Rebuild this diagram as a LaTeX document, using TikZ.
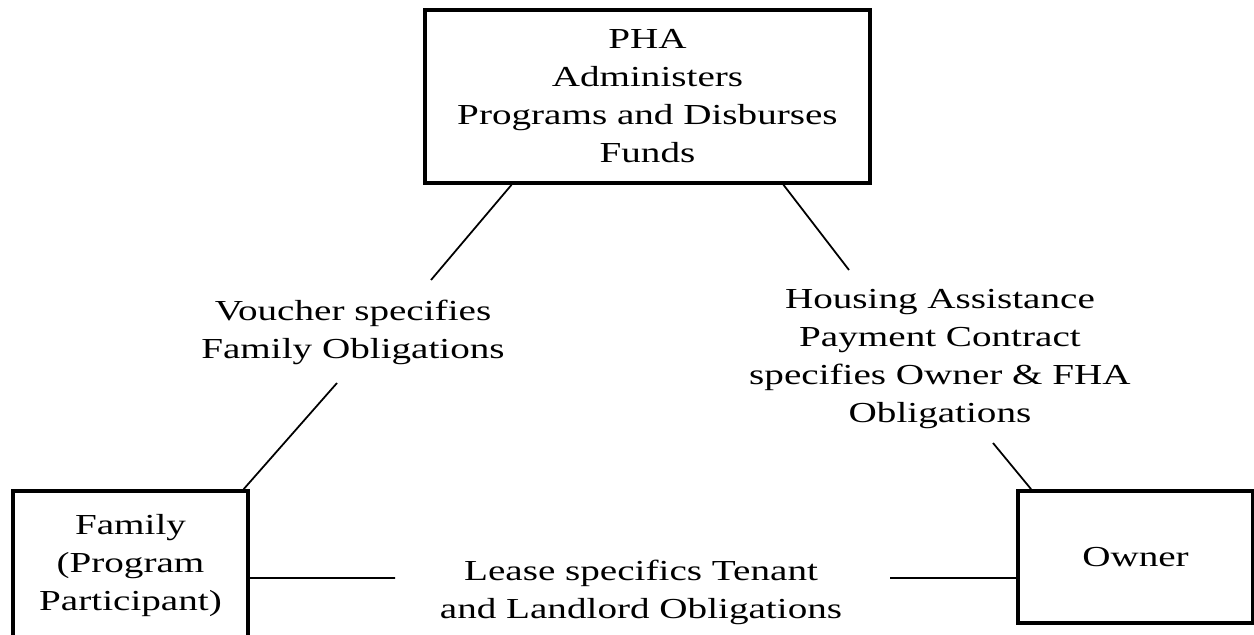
\documentclass[tikz,border=0pt]{standalone}
\usepackage{fontspec}
\setmainfont{Liberation Serif}[FakeStretch=1.35]
\begin{document}
\begin{tikzpicture}[x=0.2mm,y=-0.2mm,
  every node/.style={font=\fontsize{16.5}{21.6}\selectfont},
  box/.style={draw,line width=2pt,align=center,inner sep=0pt},
  lbl/.style={align=center},
  link/.style={line width=1pt}]
  \clip (0,0) rectangle (1254,635);          % page = picture
  % the three parties
  \node[box,minimum width=89mm,minimum height=34.6mm] (pha) at (647.5,96.5)
    {PHA\\Administers\\Programs and Disburses\\Funds};
  \node[box,minimum width=47mm,minimum height=29.8mm] (family) at (130.5,565.5)
    {Family\\(Program\\Participant)};
  \node[box,minimum width=47mm,minimum height=26.4mm] (owner) at (1135.5,557)
    {\raisebox{-1.2mm}{Owner}};
  % the documents between them
  \node[lbl] (voucher) at (353,332) {Voucher specifies\\Family Obligations};
  \node[lbl] (hap) at (940,359)
    {Housing Assistance\\Payment Contract\\specifies Owner \& FHA\\Obligations};
  \node[lbl] (lease) at (641,592) {Lease specifics Tenant\\and Landlord Obligations};
  % free ends of the broken lines
  \coordinate (v1) at (431,280);
  \coordinate (v2) at (337,383);
  \coordinate (h1) at (849,270);
  \coordinate (h2) at (993,443);
  \coordinate (l1) at (395,578);
  \coordinate (l2) at (890,578);
  \draw[link] (pha.213.7) -- (v1);           % PHA -- family
  \draw[link] (v2) -- (family.34);
  \draw[link] (pha.-33.5) -- (h1);           % PHA -- owner
  \draw[link] (h2) -- (owner.147);
  \draw[link] (family.-6) -- (l1);           % family -- owner
  \draw[link] (l2) -- (owner.190);
\end{tikzpicture}
\end{document}
